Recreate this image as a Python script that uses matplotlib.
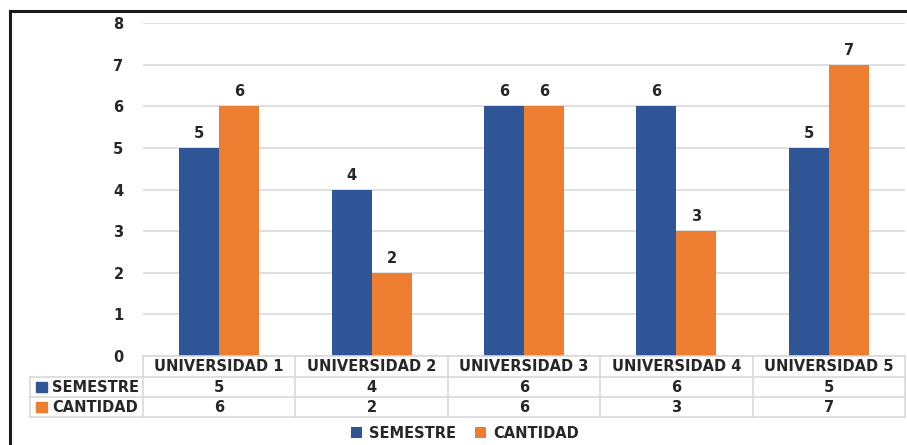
import matplotlib
matplotlib.use("Agg")
import matplotlib.pyplot as plt
from matplotlib.lines import Line2D
from matplotlib.patches import Rectangle
import matplotlib.transforms as mtrans
import numpy as np

categories = ["UNIVERSIDAD 1", "UNIVERSIDAD 2", "UNIVERSIDAD 3", "UNIVERSIDAD 4", "UNIVERSIDAD 5"]
series_names = ["SEMESTRE", "CANTIDAD"]
semestre = [5, 4, 6, 6, 5]
cantidad = [6, 2, 6, 3, 7]
yticks = [0, 1, 2, 3, 4, 5, 6, 7, 8]

BLUE = "#2F5597"
ORANGE = "#ED7D31"
GRID = "#d9d9d9"
TXT = "#262626"

W, H = 907, 445
fig = plt.figure(figsize=(W / 100, H / 100), dpi=100)
plt.rcParams['font.family'] = ['DejaVu Sans']

def fx(px):
    return px / W

def fy(py):
    return 1 - py / H

FS = 10.5

ax_left, ax_right, ax_top, ax_bot = 143, 905, 23, 356
ax = fig.add_axes([fx(ax_left), fy(ax_bot), fx(ax_right - ax_left), (ax_bot - ax_top) / H])

n = len(categories)
x = np.arange(n)
bw = 0.263
b1 = ax.bar(x - bw / 2, semestre, bw, color=BLUE, label=series_names[0], zorder=3)
b2 = ax.bar(x + bw / 2, cantidad, bw, color=ORANGE, label=series_names[1], zorder=3)
for bars in (b1, b2):
    for r in bars:
        ax.annotate(f"{int(r.get_height())}", (r.get_x() + r.get_width() / 2, r.get_height()),
                    xytext=(0, 5), textcoords="offset points", ha="center", va="bottom",
                    fontsize=10.5, fontweight="bold", color=TXT)

ax.set_xlim(-0.5, n - 0.5)
ax.set_ylim(0, 8)
ax.set_yticks(yticks)
ax.set_yticklabels([str(v) for v in yticks], fontsize=10.5, fontweight="bold", color=TXT)
ax.tick_params(axis="y", length=0, pad=14)
ax.set_xticks([])
ax.grid(axis="y", color=GRID, linewidth=1.2, zorder=0)
for s in ax.spines.values():
    s.set_visible(False)

# data table
trans = mtrans.blended_transform_factory(ax.transData, fig.transFigure)
row_tops = [356, 377, 397, 417]
lw = 1.2
fig.add_artist(Line2D([fx(143), fx(905)], [fy(356), fy(356)], color=GRID, lw=lw))
for yy in row_tops[1:]:
    fig.add_artist(Line2D([fx(30), fx(905)], [fy(yy), fy(yy)], color=GRID, lw=lw))
fig.add_artist(Line2D([fx(30), fx(30)], [fy(377), fy(417)], color=GRID, lw=lw))
for i in range(n + 1):
    xx = i - 0.5
    fig.add_artist(Line2D([xx, xx], [fy(356), fy(417)], color=GRID, lw=lw, transform=trans))

for i, c in enumerate(categories):
    fig.text(i, fy(366.5), c, transform=trans, ha="center", va="center",
             fontsize=FS, fontweight="bold", color=TXT)
    fig.text(i, fy(387), str(semestre[i]), transform=trans, ha="center", va="center",
             fontsize=FS, fontweight="bold", color=TXT)
    fig.text(i, fy(407), str(cantidad[i]), transform=trans, ha="center", va="center",
             fontsize=FS, fontweight="bold", color=TXT)

for name, col, yy in zip(series_names, [BLUE, ORANGE], [387, 407]):
    fig.add_artist(Rectangle((fx(36), fy(yy + 5)), fx(11), 10 / H, color=col, transform=fig.transFigure))
    fig.text(fx(52), fy(yy), name, ha="left", va="center", fontsize=FS, fontweight="bold", color=TXT)

# legend
fig.legend(handles=[b1, b2], labels=series_names, loc="center", bbox_to_anchor=(fx(465), fy(433)),
           ncol=2, frameon=False, handlelength=0.75, handleheight=0.75, handletextpad=0.5,
           columnspacing=1.3, prop={"size": FS, "weight": "bold"}, labelcolor=TXT)

# frame lines
fig.add_artist(Line2D([fx(10), fx(10)], [fy(11), 0], color="#1a1a1a", lw=2.2))
fig.add_artist(Line2D([fx(10), 1], [fy(11), fy(11)], color="#1a1a1a", lw=2.2))

fig.savefig("out.png", dpi=100, facecolor="white")
